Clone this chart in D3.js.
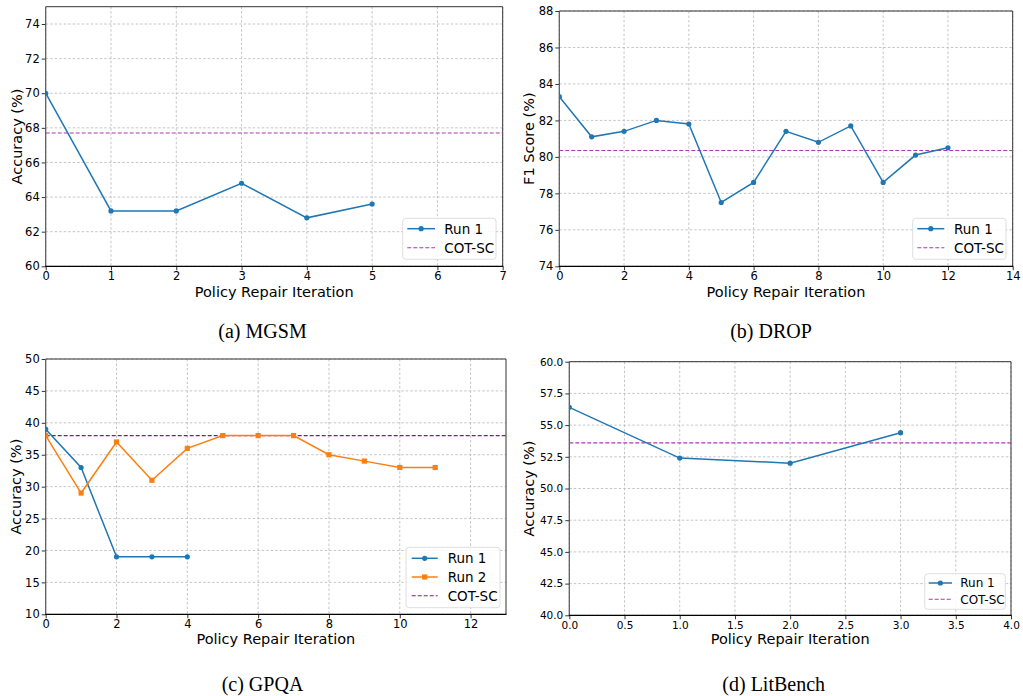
<!DOCTYPE html>
<html>
<head>
<meta charset="utf-8">
<script src="https://cdn.jsdelivr.net/npm/d3@7"></script>
<style>
  html, body { margin: 0; padding: 0; background: #fff; }
  svg { display: block; }
</style>
</head>
<body>
<svg id="chart" width="1023" height="696"></svg>
<script>
// ---------- DATA ----------
const mgsmIter = [0, 1, 2, 3, 4, 5];
const mgsmRun1 = [70.0, 63.2, 63.2, 64.8, 62.8, 63.6];
const mgsmCotSc = 67.7;

const dropIter = [0, 1, 2, 3, 4, 5, 6, 7, 8, 9, 10, 11, 12];
const dropRun1 = [83.3, 81.1, 81.4, 82.0, 81.8, 77.5, 78.6, 81.4, 80.8, 81.7, 78.6, 80.1, 80.5];
const dropCotSc = 80.35;

const gpqaIter1 = [0, 1, 2, 3, 4];
const gpqaRun1 = [39, 33, 19, 19, 19];
const gpqaIter2 = [0, 1, 2, 3, 4, 5, 6, 7, 8, 9, 10, 11];
const gpqaRun2 = [38, 29, 37, 31, 36, 38, 38, 38, 35, 34, 33, 33];
const gpqaCotSc = 38;

const litIter = [0, 1, 2, 3];
const litRun1 = [56.4, 52.4, 52.0, 54.4];
const litCotSc = 53.6;

const mgsmXTicks = [0, 1, 2, 3, 4, 5, 6, 7];
const mgsmYTicks = [60, 62, 64, 66, 68, 70, 72, 74];
const dropXTicks = [0, 2, 4, 6, 8, 10, 12, 14];
const dropYTicks = [74, 76, 78, 80, 82, 84, 86, 88];
const gpqaXTicks = [0, 2, 4, 6, 8, 10, 12];
const gpqaYTicks = [10, 15, 20, 25, 30, 35, 40, 45, 50];
const litXTicks = [0, 0.5, 1, 1.5, 2, 2.5, 3, 3.5, 4];
const litYTicks = [40, 42.5, 45, 47.5, 50, 52.5, 55, 57.5, 60];

const captions = ["(a) MGSM", "(b) DROP", "(c) GPQA", "(d) LitBench"];
const xLabel = "Policy Repair Iteration";

// ---------- DRAW ----------
const svg = d3.select("#chart");
const BLUE = "#1f77b4", ORANGE = "#ff7f0e";
const FONT = "'DejaVu Sans', sans-serif";

function drawPanel(p) {
  const g = svg.append("g");
  const x = d3.scaleLinear().domain(p.xDomain).range([p.left, p.right]);
  const y = d3.scaleLinear().domain(p.yDomain).range([p.bottom, p.top]);
  const clipId = "clip" + p.id;
  svg.append("clipPath").attr("id", clipId).append("rect")
    .attr("x", p.left).attr("y", p.top - 4)
    .attr("width", p.right - p.left + 4).attr("height", p.bottom - p.top + 8);

  // grid
  const grid = g.append("g").attr("stroke", "#b8b8b8").attr("stroke-width", 0.8)
    .attr("stroke-dasharray", "2.5,2");
  p.xTicks.forEach(t => grid.append("line")
    .attr("x1", x(t)).attr("x2", x(t)).attr("y1", p.top).attr("y2", p.bottom));
  p.yTicks.forEach(t => grid.append("line")
    .attr("y1", y(t)).attr("y2", y(t)).attr("x1", p.left).attr("x2", p.right));

  // axes with d3 axis generators
  const xAxis = d3.axisBottom(x).tickValues(p.xTicks).tickSize(4).tickPadding(2)
    .tickFormat(p.xFmt);
  const yAxis = d3.axisLeft(y).tickValues(p.yTicks).tickSize(4).tickPadding(2)
    .tickFormat(p.yFmt);
  const gx = g.append("g").attr("transform", `translate(0,${p.bottom})`).call(xAxis);
  const gy = g.append("g").attr("transform", `translate(${p.left},0)`).call(yAxis);
  [gx, gy].forEach(a => {
    a.select(".domain").remove();
    a.selectAll("text").attr("font-family", FONT).attr("font-size", p.tickFont).attr("fill", "#000");
    a.selectAll("line").attr("stroke", "#000").attr("stroke-width", 0.8);
  });

  // frame
  g.append("line").attr("x1", p.left).attr("x2", p.right).attr("y1", p.top).attr("y2", p.top)
    .attr("stroke", "#333").attr("stroke-width", 1);
  g.append("line").attr("x1", p.right).attr("x2", p.right).attr("y1", p.top).attr("y2", p.bottom)
    .attr("stroke", "#333").attr("stroke-width", 1);
  g.append("line").attr("x1", p.left).attr("x2", p.left).attr("y1", p.top).attr("y2", p.bottom)
    .attr("stroke", "#555").attr("stroke-width", 1.2);

  // COT-SC line
  g.append("line").attr("x1", p.left).attr("x2", p.right)
    .attr("y1", y(p.cot)).attr("y2", y(p.cot))
    .attr("stroke", p.cotColor).attr("stroke-width", 1.1).attr("stroke-dasharray", "4,2");

  const plot = g.append("g").attr("clip-path", `url(#${clipId})`);
  const line = d3.line().x(d => x(d[0])).y(d => y(d[1]));
  p.series.forEach(s => {
    const pts = s.xs.map((v, i) => [v, s.ys[i]]);
    plot.append("path").datum(pts).attr("d", line).attr("fill", "none")
      .attr("stroke", s.color).attr("stroke-width", 1.5);
    if (s.marker === "circle") {
      plot.selectAll(null).data(pts).enter().append("circle")
        .attr("cx", d => x(d[0])).attr("cy", d => y(d[1])).attr("r", p.mr)
        .attr("fill", s.color);
    } else {
      plot.selectAll(null).data(pts).enter().append("rect")
        .attr("x", d => x(d[0]) - 2.6).attr("y", d => y(d[1]) - 2.6)
        .attr("width", 5.2).attr("height", 5.2).attr("fill", s.color);
    }
  });

  // bottom spine on top
  g.append("line").attr("x1", p.left - 0.5).attr("x2", p.right + 0.5).attr("y1", p.bottom).attr("y2", p.bottom)
    .attr("stroke", "#000").attr("stroke-width", 1.2);

  // axis labels
  g.append("text").attr("x", (p.left + p.right) / 2).attr("y", p.xLabelY)
    .attr("text-anchor", "middle").attr("font-family", FONT).attr("font-size", p.labelFont)
    .text(xLabel);
  g.append("text").attr("transform", `translate(${p.yLabelX},${(p.top + p.bottom) / 2}) rotate(-90)`)
    .attr("text-anchor", "middle").attr("font-family", FONT).attr("font-size", p.labelFont)
    .text(p.yLabel);

  // legend
  const L = p.legend;
  g.append("rect").attr("x", L.x0).attr("y", L.y0).attr("width", L.x1 - L.x0).attr("height", L.y1 - L.y0)
    .attr("rx", 3).attr("fill", "#fff").attr("fill-opacity", 0.85)
    .attr("stroke", "#d6d6d6").attr("stroke-width", 0.8);
  const items = p.series.map(s => ({ label: s.label, color: s.color, marker: s.marker, dash: null }))
    .concat([{ label: "COT-SC", color: p.cotColor, marker: null, dash: "4,2" }]);
  items.forEach((it, i) => {
    const cy = L.rows[i];
    g.append("line").attr("x1", L.lx0).attr("x2", L.lx1).attr("y1", cy).attr("y2", cy)
      .attr("stroke", it.color).attr("stroke-width", it.dash ? 1.1 : 1.5)
      .attr("stroke-dasharray", it.dash);
    const mx = (L.lx0 + L.lx1) / 2;
    if (it.marker === "circle") g.append("circle").attr("cx", mx).attr("cy", cy).attr("r", p.mr).attr("fill", it.color);
    if (it.marker === "square") g.append("rect").attr("x", mx - 2.6).attr("y", cy - 2.6).attr("width", 5.2).attr("height", 5.2).attr("fill", it.color);
    g.append("text").attr("x", L.tx).attr("y", cy).attr("dy", "0.36em")
      .attr("font-family", FONT).attr("font-size", L.font).text(it.label);
  });

  // caption
  svg.append("text").attr("x", p.capX).attr("y", p.capY).attr("text-anchor", "middle")
    .attr("font-family", "'Liberation Serif', 'Times New Roman', serif").attr("font-size", 20)
    .text(p.caption);
}

const intFmt = d3.format("d");
const oneFmt = d3.format(".1f");

drawPanel({
  id: "a", left: 45.7, right: 502.7, top: 6.7, bottom: 266.3,
  xDomain: [0, 7], yDomain: [60, 75], xTicks: mgsmXTicks, yTicks: mgsmYTicks,
  xFmt: intFmt, yFmt: intFmt, tickFont: 11.5, labelFont: 14.5, mr: 2.6,
  xLabelY: 297, yLabelX: 22, yLabel: "Accuracy (%)",
  cot: mgsmCotSc, cotColor: "#a83aac",
  series: [{ xs: mgsmIter, ys: mgsmRun1, color: BLUE, marker: "circle", label: "Run 1" }],
  legend: { x0: 402.7, x1: 496, y0: 218.3, y1: 259.3, rows: [228.7, 247.7], lx0: 407.3, lx1: 435, tx: 444.3, font: 13.5 },
  caption: captions[0], capX: 262.5, capY: 338.3
});

drawPanel({
  id: "b", left: 559.3, right: 1012.7, top: 11, bottom: 266.3,
  xDomain: [0, 14], yDomain: [74, 88], xTicks: dropXTicks, yTicks: dropYTicks,
  xFmt: intFmt, yFmt: intFmt, tickFont: 11.5, labelFont: 14.5, mr: 2.6,
  xLabelY: 297, yLabelX: 534, yLabel: "F1 Score (%)",
  cot: dropCotSc, cotColor: "#a83aac",
  series: [{ xs: dropIter, ys: dropRun1, color: BLUE, marker: "circle", label: "Run 1" }],
  legend: { x0: 912.7, x1: 1006, y0: 218.3, y1: 259.3, rows: [228.7, 247.7], lx0: 917.3, lx1: 944.3, tx: 954, font: 13.5 },
  caption: captions[1], capX: 771, capY: 338.3
});

drawPanel({
  id: "c", left: 45.7, right: 506, top: 359, bottom: 614.3,
  xDomain: [0, 13], yDomain: [10, 50], xTicks: gpqaXTicks, yTicks: gpqaYTicks,
  xFmt: intFmt, yFmt: intFmt, tickFont: 11.5, labelFont: 14.5, mr: 2.6,
  xLabelY: 644, yLabelX: 21, yLabel: "Accuracy (%)",
  cot: gpqaCotSc, cotColor: "#86168e",
  series: [
    { xs: gpqaIter1, ys: gpqaRun1, color: BLUE, marker: "circle", label: "Run 1" },
    { xs: gpqaIter2, ys: gpqaRun2, color: ORANGE, marker: "square", label: "Run 2" }
  ],
  legend: { x0: 406, x1: 500, y0: 547.3, y1: 607.7, rows: [558.3, 577, 595.7], lx0: 411.7, lx1: 437.7, tx: 447.7, font: 13.5 },
  caption: captions[2], capX: 262.5, capY: 690.7
});

drawPanel({
  id: "d", left: 569.3, right: 1011, top: 361.7, bottom: 615.3,
  xDomain: [0, 4], yDomain: [40, 60], xTicks: litXTicks, yTicks: litYTicks,
  xFmt: oneFmt, yFmt: oneFmt, tickFont: 10.5, labelFont: 14.5, mr: 2.6,
  xLabelY: 644, yLabelX: 534, yLabel: "Accuracy (%)",
  cot: litCotSc, cotColor: "#a83aac",
  series: [{ xs: litIter, ys: litRun1, color: BLUE, marker: "circle", label: "Run 1" }],
  legend: { x0: 924.7, x1: 1005.3, y0: 573.7, y1: 609.3, rows: [583, 599.3], lx0: 928.7, lx1: 952, tx: 960.3, font: 12 },
  caption: captions[3], capX: 773.7, capY: 690.7
});
</script>
</body>
</html>
